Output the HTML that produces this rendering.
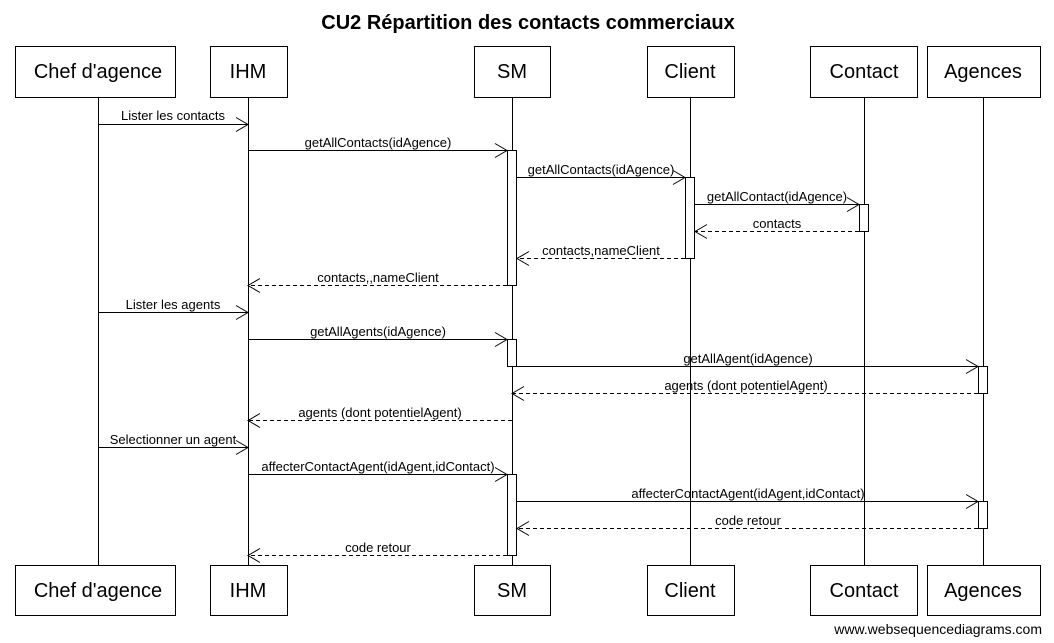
<!DOCTYPE html>
<html><head><meta charset="utf-8"><style>
body{margin:0;background:#fff;width:1054px;height:638px;overflow:hidden}
svg text{font-family:"Liberation Sans",Arial,sans-serif}
</style></head><body>
<svg width="1054" height="638" xmlns="http://www.w3.org/2000/svg">
<text x="528" y="29" text-anchor="middle" font-size="20" font-weight="bold">CU2 Répartition des contacts commerciaux</text>
<g stroke="#000" stroke-width="1" fill="none">
<line x1="98.5" y1="97" x2="98.5" y2="565"/>
<line x1="248.5" y1="97" x2="248.5" y2="565"/>
<line x1="512.5" y1="97" x2="512.5" y2="565"/>
<line x1="690.5" y1="97" x2="690.5" y2="565"/>
<line x1="864.5" y1="97" x2="864.5" y2="565"/>
<line x1="983.5" y1="97" x2="983.5" y2="565"/>
</g>
<g stroke="#000" fill="#fff">
<rect x="15.5" y="46.5" width="160" height="51"/><rect x="210.5" y="46.5" width="77" height="51"/>
<rect x="474.5" y="46.5" width="76" height="51"/><rect x="647.5" y="46.5" width="87" height="51"/>
<rect x="810.5" y="46.5" width="107" height="51"/><rect x="927.5" y="46.5" width="113" height="51"/>
<rect x="15.5" y="565.5" width="160" height="50"/><rect x="210.5" y="565.5" width="77" height="50"/>
<rect x="474.5" y="565.5" width="76" height="50"/><rect x="647.5" y="565.5" width="87" height="50"/>
<rect x="810.5" y="565.5" width="107" height="50"/><rect x="927.5" y="565.5" width="113" height="50"/>
<rect x="507.5" y="150.5" width="9" height="135"/>
<rect x="685.5" y="177.5" width="9" height="81"/>
<rect x="859.5" y="204.5" width="9" height="27"/>
<rect x="507.5" y="339.5" width="9" height="27"/>
<rect x="978.5" y="366.5" width="9" height="27"/>
<rect x="507.5" y="474.5" width="9" height="81"/>
<rect x="978.5" y="501.5" width="9" height="27"/>
</g>
<g font-size="20" text-anchor="middle">
<text x="98" y="78">Chef d'agence</text><text x="248" y="78">IHM</text><text x="512" y="78">SM</text>
<text x="690" y="78">Client</text><text x="864" y="78">Contact</text><text x="983" y="78">Agences</text>
<text x="98" y="597">Chef d'agence</text><text x="248" y="597">IHM</text><text x="512" y="597">SM</text>
<text x="690" y="597">Client</text><text x="864" y="597">Contact</text><text x="983" y="597">Agences</text>
</g>
<g stroke="#000" fill="none">
<path d="M98 124.5H248M236 117.5L248 124.5L236 131.5"/>
<path d="M248 150.5H507M495 143.5L507 150.5L495 157.5"/>
<path d="M517 177.5H685M673 170.5L685 177.5L673 184.5"/>
<path d="M695 204.5H859M847 197.5L859 204.5L847 211.5"/>
<path d="M98 312.5H248M236 305.5L248 312.5L236 319.5"/>
<path d="M248 339.5H507M495 332.5L507 339.5L495 346.5"/>
<path d="M512 366.5H978M966 359.5L978 366.5L966 373.5"/>
<path d="M98 447.5H248M236 440.5L248 447.5L236 454.5"/>
<path d="M248 474.5H507M495 467.5L507 474.5L495 481.5"/>
<path d="M517 501.5H978M966 494.5L978 501.5L966 508.5"/>
<path d="M707 224.5L695 231.5L707 238.5"/>
<path d="M529 251.5L517 258.5L529 265.5"/>
<path d="M260 278.5L248 285.5L260 292.5"/>
<path d="M524 386.5L512 393.5L524 400.5"/>
<path d="M260 413.5L248 420.5L260 427.5"/>
<path d="M529 521.5L517 528.5L529 535.5"/>
<path d="M260 548.5L248 555.5L260 562.5"/>
</g>
<g stroke="#000" fill="none" stroke-dasharray="4,3">
<path d="M859 231.5H695"/><path d="M685 258.5H517"/><path d="M507 285.5H248"/>
<path d="M978 393.5H512"/><path d="M512 420.5H248"/><path d="M978 528.5H517"/><path d="M507 555.5H248"/>
</g>
<g font-size="13" text-anchor="middle">
<text x="173" y="120">Lister les contacts</text>
<text x="378" y="147">getAllContacts(idAgence)</text>
<text x="601" y="174">getAllContacts(idAgence)</text>
<text x="777" y="201">getAllContact(idAgence)</text>
<text x="777" y="228">contacts</text>
<text x="601" y="255">contacts,nameClient</text>
<text x="378" y="282">contacts,,nameClient</text>
<text x="173" y="309">Lister les agents</text>
<text x="378" y="336">getAllAgents(idAgence)</text>
<text x="748" y="363">getAllAgent(idAgence)</text>
<text x="746" y="390">agents (dont potentielAgent)</text>
<text x="380" y="417">agents (dont potentielAgent)</text>
<text x="173" y="444">Selectionner un agent</text>
<text x="378" y="471">affecterContactAgent(idAgent,idContact)</text>
<text x="748" y="498">affecterContactAgent(idAgent,idContact)</text>
<text x="748" y="525">code retour</text>
<text x="378" y="552">code retour</text>
</g>
<text x="1042" y="634" text-anchor="end" font-size="14">www.websequencediagrams.com</text>
</svg>
</body></html>
